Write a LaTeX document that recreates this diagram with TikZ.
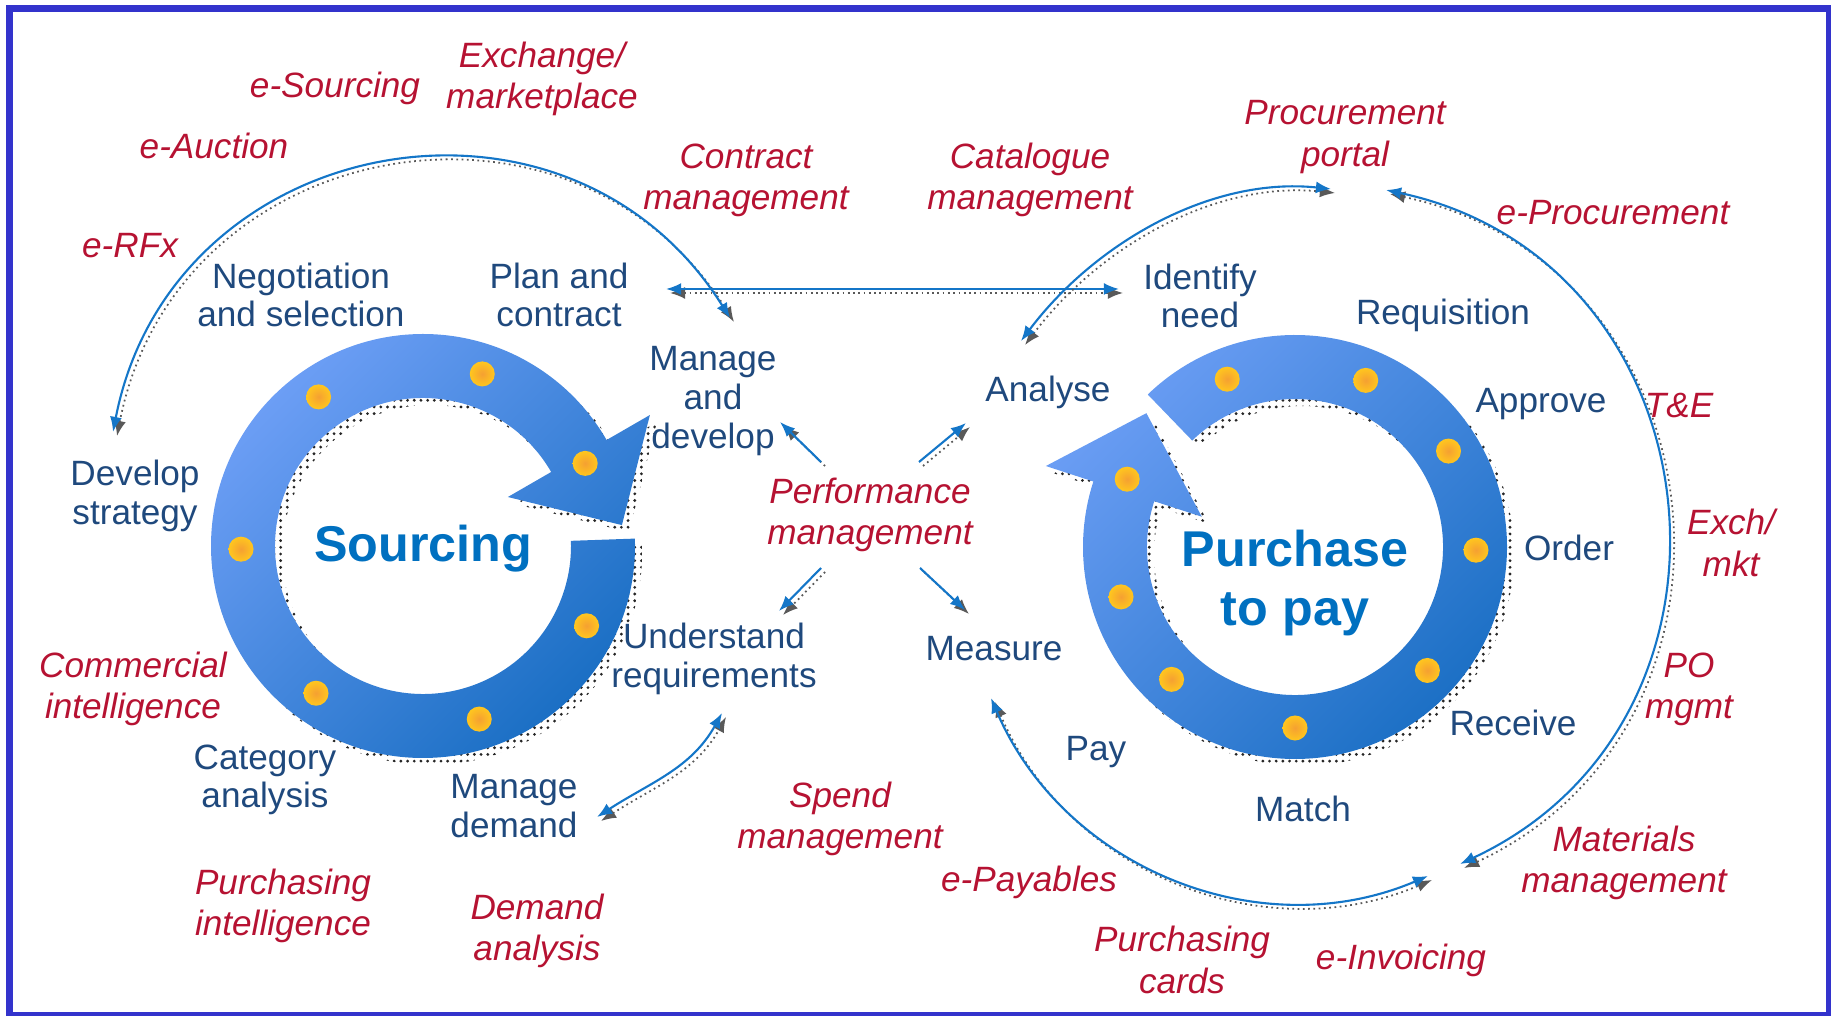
\documentclass[tikz,border=0pt]{standalone}
\usepackage{fontspec}
\setmainfont{Liberation Sans}
\usetikzlibrary{arrows,arrows.meta,shapes,positioning,calc,patterns.meta,backgrounds}
\definecolor{frameblue}{RGB}{51,51,204}
\definecolor{stagenavy}{RGB}{31,73,125}
\definecolor{toolred}{RGB}{182,18,50}
\definecolor{cyclelabel}{RGB}{0,112,192}
\definecolor{ringlight}{RGB}{108,158,245}
\definecolor{ringdark}{RGB}{25,110,195}
\definecolor{beadin}{RGB}{245,160,50}
\definecolor{beadout}{RGB}{255,198,30}
\definecolor{linkblue}{RGB}{20,118,200}
\newcommand{\cyclering}[1]{(#1:212) arc[start angle=#1,end angle=#1-332,radius=212]
  -- (#1+28:262) -- (#1+4:200) -- (#1+28:98) -- (#1+28:148)
  arc[start angle=#1+28,end angle=#1+360,radius=148] -- cycle}
\begin{document}
\begin{tikzpicture}
[x=.01cm,y=.01cm,
stage/.style={text=stagenavy,align=center,font=\fontsize{10}{11}\selectfont},
tool/.style={text=toolred,align=center,font=\fontsize{10}{11.7}\selectfont\itshape},
cyclename/.style={text=cyclelabel,align=center,font=\fontsize{14.3}{16.5}\selectfont\bfseries},
ring/.style={shade,top color=ringlight,bottom color=ringdark,shading angle=45},
ringshadow/.style={pattern={Dots[distance=1.9pt,radius=.45pt]},pattern color=black!85},
bead/.style={circle,inner sep=0pt,minimum size=.25cm,shade,inner color=beadin,outer color=beadout},
link/.style={linkblue,line width=.6pt,>={Latex[length=4.3pt,width=3.4pt]},
  preaction={draw=black!65,densely dotted,line width=.5pt,transform canvas={shift={(4,-4)}}}}]
\useasboundingbox (0,0) rectangle (1831,1015);
\draw[frameblue,line width=.07cm] (9.5,1006.5) rectangle (1829.5,-.5);
%%
% cycles
%%
\coordinate (src) at (423,469);
\coordinate (p2p) at (1295,468);
\begin{scope}[shift={(src)}]
\fill[ringshadow,shift={(7,-7)}] \cyclering{2};
\path[ring] \cyclering{2};
\end{scope}
\begin{scope}[shift={(p2p)}]
\fill[ringshadow,shift={(7,-7)}] \cyclering{134};
\path[ring] \cyclering{134};
\end{scope}
\foreach \a [count=\i] in {27,71,125,181,234,288,334}
  \node[bead] (sb\i) at ([shift={(\a:182)}]src) {};
\foreach \a [count=\i] in {112,67,32,-1,-43,-90,-133,-164,158}
  \node[bead] (pb\i) at ([shift={(\a:181)}]p2p) {};
\node[cyclename] (srcname) at (423,466) {Sourcing};
\node[cyclename] (p2pname) at (1295,432) {Purchase\\to pay};
%%
% Sourcing stages
%%
\node[stage] (negot) at (301,720) {Negotiation\\and selection};
\node[stage] (plan) at (559,720) {Plan and\\contract};
\node[stage] (mngdev) at (713,614) {Manage\\and\\develop};
\node[stage] (devstr) at (135,519) {Develop\\strategy};
\node[stage] (under) at (714,356) {Understand\\requirements};
\node[stage] (categ) at (265,235) {Category\\analysis};
\node[stage] (mngdem) at (514,209) {Manage\\demand};
%%
% Purchase to pay stages
%%
\node[stage] (ident) at (1200,719) {Identify\\need};
\node[stage] (requis) at (1443,700) {Requisition};
\node[stage] (analyse) at (1048,623) {Analyse};
\node[stage] (approve) at (1541,611) {Approve};
\node[stage] (order) at (1569,467) {Order};
\node[stage] (receive) at (1513,292) {Receive};
\node[stage] (measure) at (994,366) {Measure};
\node[stage] (pay) at (1096,263) {Pay};
\node[stage] (match) at (1303,206) {Match};
%%
% tools
%%
\node[tool] (exch) at (542,936) {Exchange/\\marketplace};
\node[tool] (esrc) at (335,927) {e-Sourcing};
\node[tool] (eauc) at (214,869) {e-Auction};
\node[tool] (erfx) at (130,769) {e-RFx};
\node[tool] (contr) at (746,835) {Contract\\management};
\node[tool] (catal) at (1030,835) {Catalogue\\management};
\node[tool] (portal) at (1345,878) {Procurement\\portal};
\node[tool] (eproc) at (1613,802) {e-Procurement};
\node[tool] (tne) at (1679,609) {T\&E};
\node[tool] (exmkt) at (1731,472) {Exch/\\mkt};
\node[tool] (pomgmt) at (1689,326) {PO\\mgmt};
\node[tool] (mater) at (1624,152) {Materials\\management};
\node[tool] (einv) at (1401,55) {e-Invoicing};
\node[tool] (pcard) at (1182,55) {Purchasing\\cards};
\node[tool] (epay) at (1029,133) {e-Payables};
\node[tool] (spend) at (840,196) {Spend\\management};
\node[tool] (demand) at (537,84) {Demand\\analysis};
\node[tool] (pintel) at (283,109) {Purchasing\\intelligence};
\node[tool] (cintel) at (133,326) {Commercial\\intelligence};
\node[tool] (perf) at (870,500) {Performance\\management};
%%
% links
%%
\coordinate (srcW) at (113,583);
\coordinate (srcNE) at (730,697);
\coordinate (linkL) at (666,726);
\coordinate (linkR) at (1119,726);
\coordinate (catSW) at (1021,674);
\coordinate (catNE) at (1331,826);
\coordinate (eprN) at (1386,825);
\coordinate (eprS) at (1460,151);
\coordinate (payW) at (991,317);
\coordinate (payE) at (1428,139);
\coordinate (demS) at (597,198);
\coordinate (demN) at (722,302);
\path
(srcW) edge[link,<->,out=79,in=122,looseness=1.25] (srcNE)
(linkL) edge[link,<->] (linkR)
(catSW) edge[link,<->,out=53,in=174,looseness=.9] (catNE)
(eprN) edge[link,<->,out=-12,in=25,looseness=1.29] (eprS)
(payW) edge[link,<->,out=-67,in=203,looseness=1] (payE)
(demS) edge[link,<->,out=33,in=241] (demN);
%% performance arrows
\coordinate (pfUL) at (821,553);
\coordinate (pfUR) at (919,553);
\coordinate (pfDL) at (821,447);
\coordinate (pfDR) at (920,447);
\coordinate (toUL) at (780,593);
\coordinate (toUR) at (966,592);
\coordinate (toDL) at (779,404);
\coordinate (toDR) at (965,405);
\path
(pfUL) edge[link,->] (toUL)
(pfUR) edge[link,->] (toUR)
(pfDL) edge[link,->] (toDL)
(pfDR) edge[link,->] (toDR);
\end{tikzpicture}
\end{document}
